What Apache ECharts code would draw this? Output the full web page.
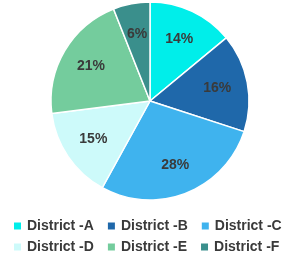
<!DOCTYPE html>
<html><head><meta charset="utf-8">
<script src="https://cdn.jsdelivr.net/npm/echarts@6/dist/echarts.min.js"></script>
<style>html,body{margin:0;padding:0;background:#fff}#c{width:291px;height:260px}</style>
</head><body><div id="c"></div>
<script>
const categories = ['District -A','District -B','District -C','District -D','District -E','District -F'];
const values = [14, 16, 28, 15, 21, 6];
const colors = ['#00eeea','#1f68aa','#3fb3ee','#cdfafa','#74cc9d','#3a8f8c'];

const data = categories.map((n, i) => ({ name: n, value: values[i], itemStyle: { color: colors[i] } }));
const chart = echarts.init(document.getElementById('c'));
const legendCommon = {
  orient: 'horizontal', left: 12, width: 285, padding: 0, itemWidth: 9, itemHeight: 9, itemGap: 12,
  icon: 'rect',
  textStyle: { fontFamily: 'Liberation Sans, Arial', fontSize: 14, fontWeight: 'bold', color: '#3a3a3a' }
};
chart.setOption({
  animation: false,
  legend: [
    Object.assign({}, legendCommon, { top: 219, data: categories.slice(0, 3) }),
    Object.assign({}, legendCommon, { top: 240, data: categories.slice(3) })
  ],
  series: [{
    type: 'pie', center: [150, 101], radius: [0, 99], startAngle: 90, clockwise: true,
    itemStyle: { borderColor: '#fff', borderWidth: 1.5 },
    label: { show: false }, labelLine: { show: false },
    emphasis: { disabled: true },
    data: data
  }, {
    type: 'pie', center: [150, 101], radius: [32, 99], startAngle: 90, clockwise: true,
    silent: true,
    itemStyle: { color: 'rgba(0,0,0,0)', borderWidth: 0 },
    label: { show: true, position: 'inside', formatter: '{c}%', fontFamily: 'Liberation Sans, Arial', fontSize: 14, fontWeight: 'bold', color: '#3a3a3a' },
    labelLine: { show: false },
    emphasis: { disabled: true },
    data: categories.map((n, i) => ({ name: n + ' ', value: values[i] }))
  }]
});
</script></body></html>
